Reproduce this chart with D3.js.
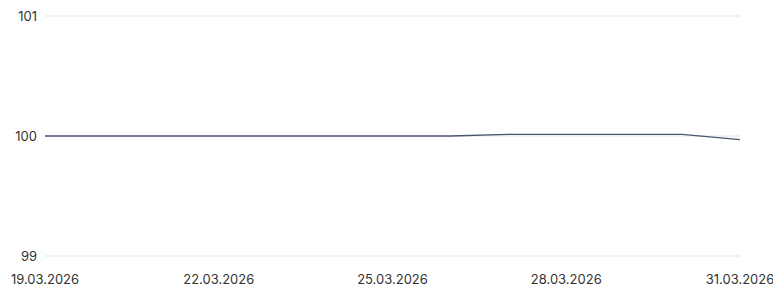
<!DOCTYPE html>
<html><head><meta charset="utf-8">
<script src="https://cdn.jsdelivr.net/npm/d3@7"></script>
<style>body{margin:0;background:#fff;} text{font-family:Inter, "Noto Sans", sans-serif;}</style>
</head><body><svg id="c" width="773" height="288"></svg>
<script>
const dates = ["19.03.2026","20.03.2026","21.03.2026","22.03.2026","23.03.2026","24.03.2026","25.03.2026","26.03.2026","27.03.2026","28.03.2026","29.03.2026","30.03.2026","31.03.2026"];
const values = [100,100,100,100,100,100,100,100,100.014,100.014,100.014,100.014,99.97];
const xTickLabels = ["19.03.2026","22.03.2026","25.03.2026","28.03.2026","31.03.2026"];
const yTicks = [99,100,101];

const parse = d3.timeParse("%d.%m.%Y");
const data = dates.map((d,i)=>({date:parse(d), v:values[i]}));
const svg = d3.select("#c");
const x = d3.scaleTime().domain(d3.extent(data,d=>d.date)).range([45,740]);
const y = d3.scaleLinear().domain([99,101]).range([256,16]);

svg.append("g").selectAll("line").data(yTicks).join("line")
  .attr("x1",45).attr("x2",740).attr("y1",d=>y(d)).attr("y2",d=>y(d))
  .attr("stroke","#e3e3e8").attr("stroke-width",1);
svg.append("g").selectAll("text").data(yTicks).join("text")
  .attr("x",37).attr("y",d=>y(d)).attr("dy","0.35em").attr("text-anchor","end")
  .attr("font-size",13).attr("fill","#333").text(d=>d);

svg.append("path").datum(data)
  .attr("d",d3.line().x(d=>x(d.date)).y(d=>y(d.v)))
  .attr("fill","none").attr("stroke","#4a5670").attr("stroke-width",1.3);

svg.append("g").selectAll("text").data(xTickLabels).join("text")
  .attr("x",d=>x(parse(d))).attr("y",284).attr("text-anchor","middle")
  .attr("font-size",13).attr("fill","#333").text(d=>d);
</script></body></html>
